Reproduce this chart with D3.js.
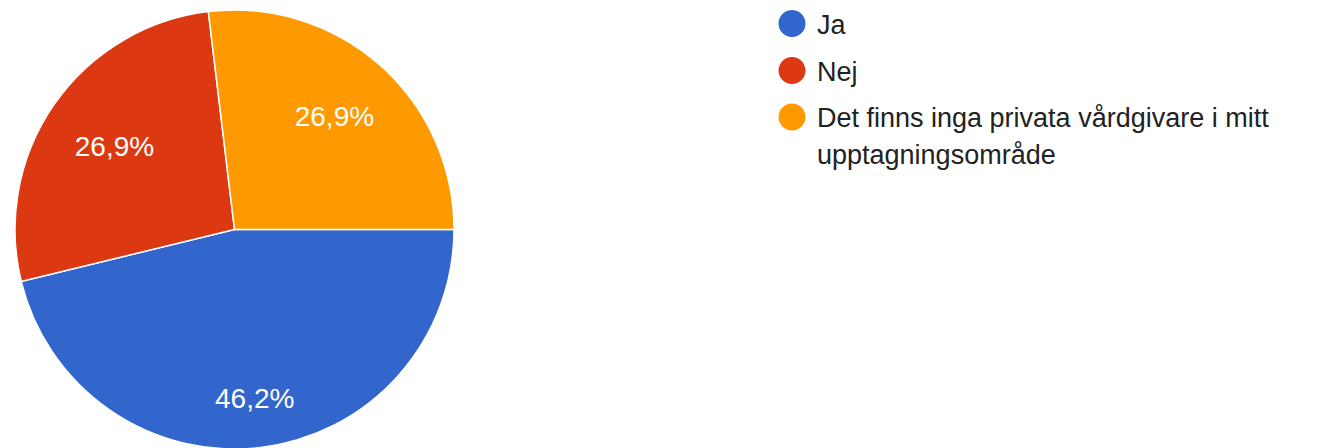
<!DOCTYPE html>
<html><head><meta charset="utf-8">
<script src="https://cdn.jsdelivr.net/npm/d3@7"></script>
<style>html,body{margin:0;padding:0;background:#fff;overflow:hidden}</style>
</head><body>
<svg id="chart" width="1330" height="448"></svg>
<script>
const categories = ["Ja", "Nej", "Det finns inga privata vårdgivare i mitt upptagningsområde"];
const legendLines = [["Ja"], ["Nej"], ["Det finns inga privata vårdgivare i mitt", "upptagningsområde"]];
const values = [46.2, 26.9, 26.9];
const labels = ["46,2%", "26,9%", "26,9%"];
const colors = ["#3366cc", "#dc3912", "#ff9900"];

const svg = d3.select("#chart");
const cx = 234.5, cy = 229.5, R = 219.5;
const font = "Arial, 'Liberation Sans', sans-serif";

const pie = d3.pie().sort(null).value(d => d)
  .startAngle(Math.PI / 2).endAngle(Math.PI / 2 + 2 * Math.PI);
const arcs = pie(values);
const arc = d3.arc().innerRadius(0).outerRadius(R);

const g = svg.append("g").attr("transform", `translate(${cx},${cy})`);
g.selectAll("path").data(arcs).join("path")
  .attr("d", arc)
  .attr("fill", (d, i) => colors[i])
  .attr("stroke", "#fff")
  .attr("stroke-width", 1.5);

const lab = g.selectAll("text.lab").data(arcs).join("text")
  .attr("class", "lab")
  .attr("font-family", font)
  .attr("font-size", 28)
  .attr("fill", "#fff")
  .attr("text-anchor", "middle")
  .attr("dominant-baseline", "central")
  .text((d, i) => labels[i]);

lab.each(function(d) {
  const bb = this.getBBox();
  const a = (d.startAngle + d.endAngle) / 2;
  const ux = Math.sin(a), uy = -Math.cos(a);
  const hw = bb.width / 2, hh = 10;
  const ext = hw * Math.abs(ux) + hh * Math.abs(uy);
  const r = 0.84 * R - ext;
  d3.select(this).attr("x", ux * r).attr("y", uy * r);
});

const leg = svg.append("g");
const rowY = [23.5, 70.5, 117];
legendLines.forEach((lines, i) => {
  leg.append("circle").attr("cx", 792).attr("cy", rowY[i]).attr("r", 13.5).attr("fill", colors[i]);
  const t = leg.append("text")
    .attr("font-family", font).attr("font-size", 27).attr("fill", "#222")
    .attr("x", 817).attr("y", rowY[i] + 10);
  lines.forEach((ln, j) => {
    t.append("tspan").attr("x", 817).attr("dy", j === 0 ? 0 : 37).text(ln);
  });
});
</script>
</body></html>
